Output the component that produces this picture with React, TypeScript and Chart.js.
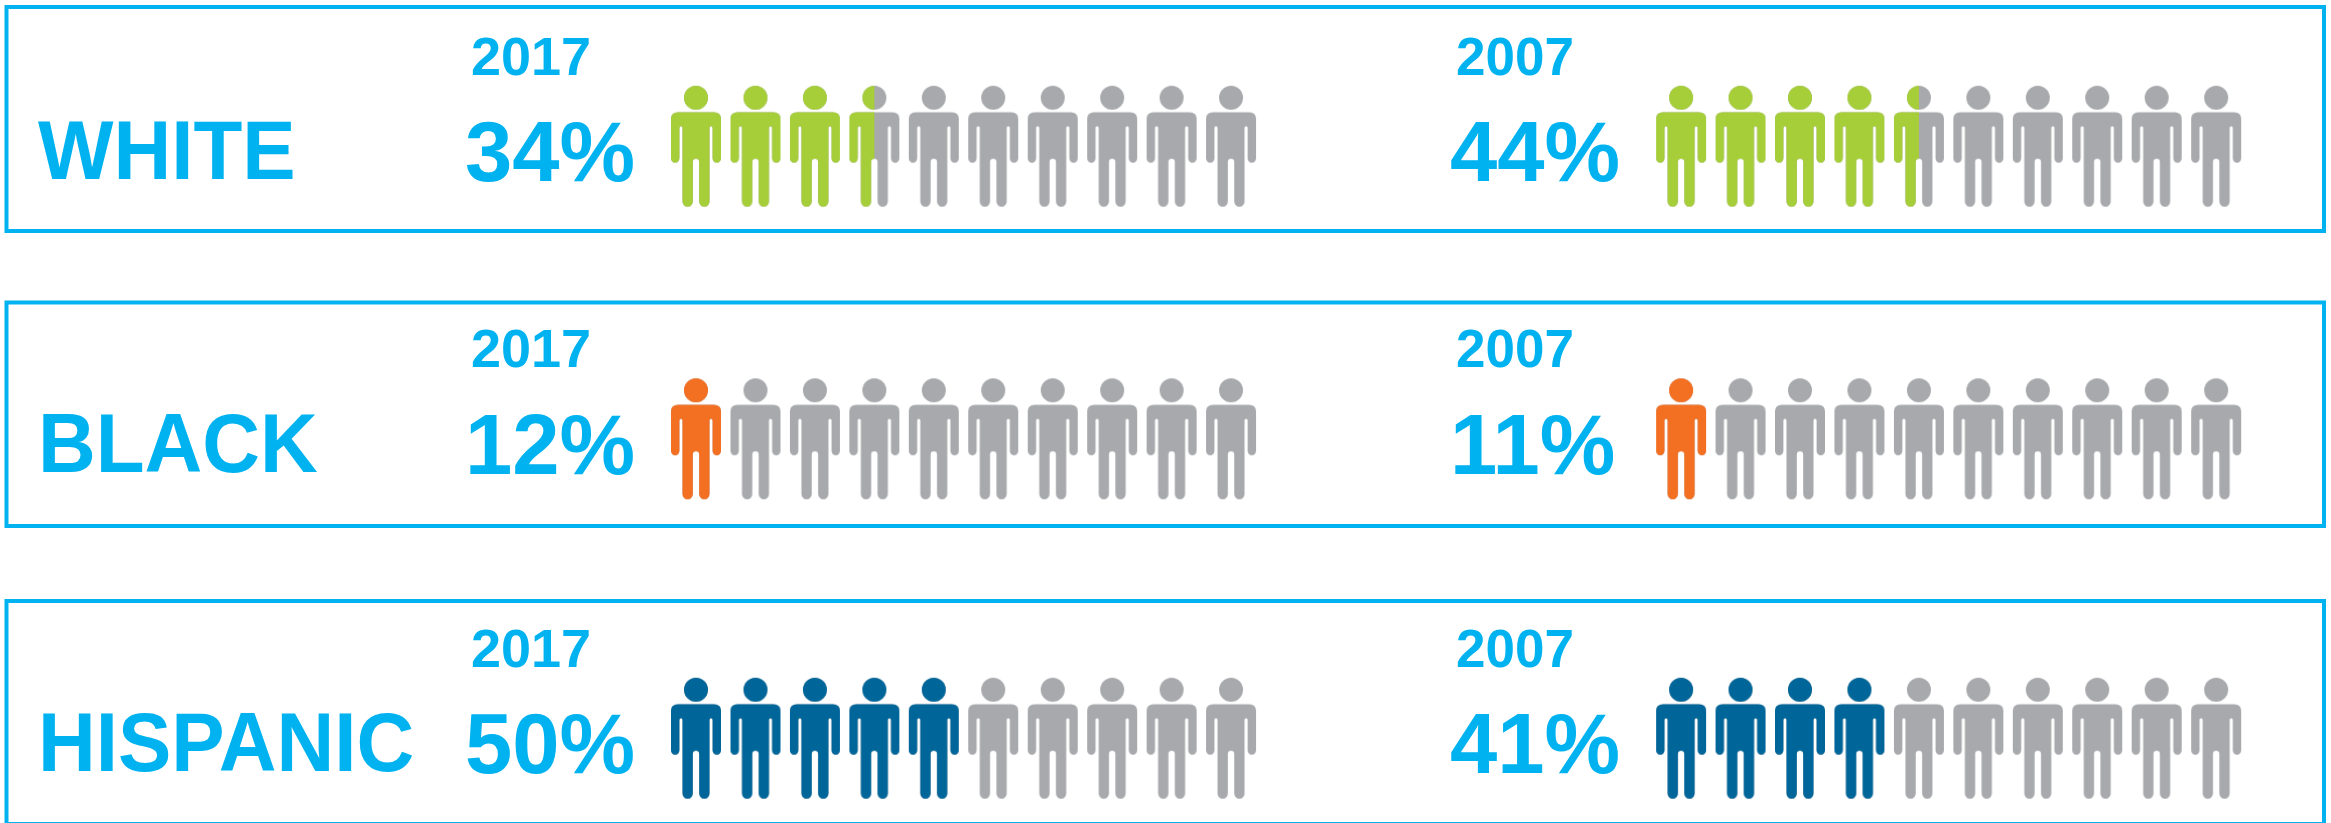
import React, { useEffect, useRef } from "react";
import { Chart, registerables } from "chart.js";

Chart.register(...registerables);

const categories = ["WHITE", "BLACK", "HISPANIC"];
const years = ["2017", "2007"];
const percent2017 = ["34%", "12%", "50%"];
const percent2007 = ["44%", "11%", "41%"];
const filled2017 = [3.5, 1, 5];
const filled2007 = [4.5, 1, 4];
const iconSlots = [0, 1, 2, 3, 4, 5, 6, 7, 8, 9];
const rowColors = ["#A6CE39", "#F36F21", "#00669A"];

const GREY = "#A7A9AC";
const BLUE = "#00B3F0";
const W = 2331;
const H = 823;
const COLUMN_OFFSET = 16.57;
const SLOT = 59.45;
const ROW = 296;
const ROW_POSITION = [0, 0.9885, 2];
const FRAME_TOP = [7, 302.5, 601];
const FRAME_HEIGHT = [224, 223.5, 223];

function personPath(ctx: CanvasRenderingContext2D) {
  ctx.beginPath();
  ctx.arc(0, 12, 12, 0, Math.PI * 2);
  ctx.closePath();
  ctx.moveTo(-25, 33);
  ctx.quadraticCurveTo(-25, 26.5, -18, 26.5);
  ctx.lineTo(18, 26.5);
  ctx.quadraticCurveTo(25, 26.5, 25, 33);
  ctx.lineTo(25, 72.8);
  ctx.arc(20.8, 72.8, 4.2, 0, Math.PI, false);
  ctx.lineTo(16.6, 42);
  ctx.arc(15.05, 42, 1.55, 0, Math.PI, true);
  ctx.lineTo(13.5, 115.85);
  ctx.arc(8.35, 115.85, 5.15, 0, Math.PI, false);
  ctx.lineTo(3.2, 76.2);
  ctx.arc(0, 76.2, 3.2, 0, Math.PI, true);
  ctx.lineTo(-13.5 + 10.3, 115.85);
  ctx.arc(-8.35, 115.85, 5.15, 0, Math.PI, false);
  ctx.lineTo(-13.5, 42);
  ctx.arc(-15.05, 42, 1.55, 0, Math.PI, true);
  ctx.lineTo(-16.6, 72.8);
  ctx.arc(-20.8, 72.8, 4.2, 0, Math.PI, false);
  ctx.closePath();
}

function personIcon(color: string, fraction: number) {
  const c = document.createElement("canvas");
  c.width = 54;
  c.height = 125;
  const ctx = c.getContext("2d") as CanvasRenderingContext2D;
  ctx.translate(27, 2);
  personPath(ctx);
  ctx.fillStyle = GREY;
  ctx.fill();
  if (fraction > 0) {
    ctx.save();
    ctx.beginPath();
    ctx.rect(-27, -2, 54 * fraction, 125);
    ctx.clip();
    personPath(ctx);
    ctx.fillStyle = color;
    ctx.fill();
    ctx.restore();
  }
  return c;
}

function rowDataset(row: number, column: number, filled: number) {
  const offset = column * COLUMN_OFFSET;
  return {
    label: `${categories[row]} ${years[column]}`,
    data: iconSlots.map((slot) => ({ x: slot + offset, y: ROW_POSITION[row] })),
    pointStyle: iconSlots.map((slot) =>
      personIcon(rowColors[row], Math.max(0, Math.min(1, filled - slot)))
    ),
    pointRadius: 25,
    pointHoverRadius: 25,
    showLine: false,
    clip: false as const,
  };
}

const frameAndTextPlugin = {
  id: "frameAndText",
  beforeDatasetsDraw(chart: any) {
    const { ctx } = chart;
    ctx.save();
    ctx.strokeStyle = BLUE;
    ctx.lineWidth = 4;
    categories.forEach((_, row) => {
      ctx.strokeRect(6.5, FRAME_TOP[row], 2317.5, FRAME_HEIGHT[row]);
    });
    ctx.restore();
  },
  afterDatasetsDraw(chart: any) {
    const { ctx, scales } = chart;
    ctx.save();
    ctx.fillStyle = BLUE;
    ctx.textBaseline = "alphabetic";
    ctx.textAlign = "left";
    categories.forEach((name, row) => {
      const cy = scales.y.getPixelForValue(ROW_POSITION[row]);
      ctx.save();
      ctx.font = 'bold 84px "Liberation Sans"';
      ctx.translate(38, cy + 33);
      ctx.scale(0.952, 1);
      ctx.fillText(name, 0, 0);
      ctx.restore();
      ctx.font = 'bold 54px "Liberation Sans"';
      ctx.fillText(years[0], 471, cy - 71.5);
      ctx.font = 'bold 53px "Liberation Sans"';
      ctx.fillText(years[1], 1456, cy - 71.5);
      ctx.font = 'bold 85px "Liberation Sans"';
      ctx.fillText(percent2017[row], 465, cy + 35);
      ctx.fillText(percent2007[row], 1450, cy + 35);
    });
    ctx.restore();
  },
};

export default function App() {
  const ref = useRef<HTMLCanvasElement>(null);
  useEffect(() => {
    if (!ref.current) return;
    const datasets = categories.flatMap((_, row) => [
      rowDataset(row, 0, filled2017[row]),
      rowDataset(row, 1, filled2007[row]),
    ]);
    const xMin = -696 / SLOT;
    const yMin = -146.2 / ROW;
    const chart = new Chart(ref.current, {
      type: "scatter",
      data: { datasets },
      options: {
        animation: false,
        responsive: false,
        devicePixelRatio: 1,
        layout: { padding: 0, autoPadding: false },
        events: [],
        plugins: {
          legend: { display: false },
          tooltip: { enabled: false },
          title: { display: false },
        },
        scales: {
          x: { type: "linear", display: false, min: xMin, max: xMin + W / SLOT },
          y: { type: "linear", display: false, reverse: true, min: yMin, max: yMin + H / ROW },
        },
      },
      plugins: [frameAndTextPlugin],
    } as any);
    return () => chart.destroy();
  }, []);
  return (
    <div style={{ position: "absolute", left: 0, top: 0, width: W, height: H, overflow: "hidden", background: "#fff" }}>
      <canvas ref={ref} width={W} height={H} style={{ display: "block" }} />
    </div>
  );
}
